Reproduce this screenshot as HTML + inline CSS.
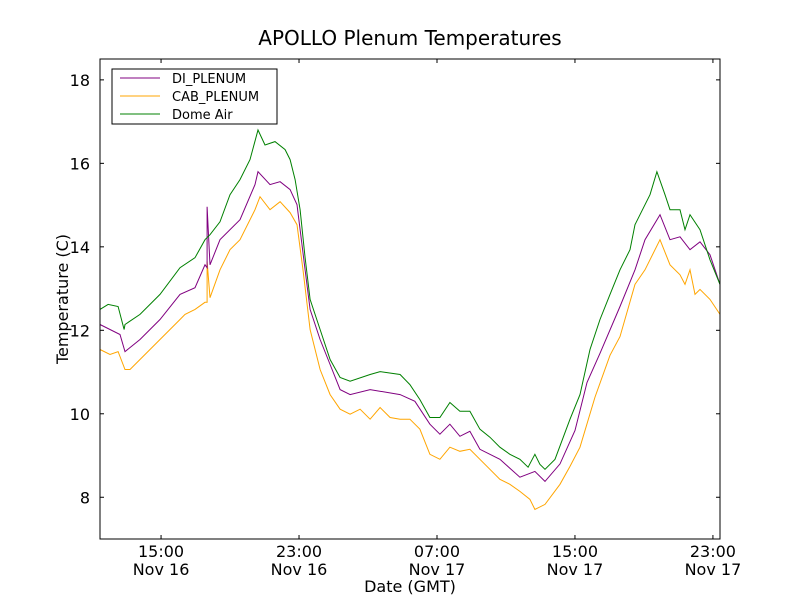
<!DOCTYPE html>
<html><head><meta charset="utf-8"><style>
body{margin:0;background:#fff}
svg{display:block;font-family:"DejaVu Sans","Liberation Sans",sans-serif}
</style></head><body>
<svg id="chart" width="800" height="600" viewBox="0 0 800 600">
<rect width="800" height="600" fill="#fff"/>
<text x="410" y="45" text-anchor="middle" font-size="20">APOLLO Plenum Temperatures</text>
<g id="plot"></g>
<g id="axes"></g>
<text x="410" y="592" text-anchor="middle" font-size="16">Date (GMT)</text>
<text x="68" y="299" text-anchor="middle" font-size="16" transform="rotate(-90 68 299)">Temperature (C)</text>
<g>
<rect x="112" y="69" width="165" height="55" fill="#fff" stroke="#000" stroke-width="1"/>
<line x1="120" y1="78" x2="160" y2="78" stroke="purple"/>
<text x="172" y="83" font-size="13">DI_PLENUM</text>
<line x1="120" y1="96" x2="160" y2="96" stroke="orange"/>
<text x="172" y="101" font-size="13">CAB_PLENUM</text>
<line x1="120" y1="114" x2="160" y2="114" stroke="green"/>
<text x="172" y="119" font-size="13">Dome Air</text>
</g>
</svg>
<script>
// hours relative to 15:00 Nov 16
const domeTimes=[-3.54,-3.07,-2.49,-2.14,-2.09,-1.22,-0.06,1.10,1.97,2.55,2.84,3.42,4.0,4.58,5.16,5.62,6.03,6.61,7.19,7.48,7.77,8.06,8.35,8.64,9.22,9.80,10.38,10.96,12.12,12.70,13.86,14.43,15.01,15.59,16.17,16.75,17.33,17.91,18.49,19.07,19.65,20.23,20.81,21.28,21.68,21.97,22.26,22.84,23.71,24.29,24.87,25.45,26.03,26.61,27.19,27.48,27.77,28.35,28.75,29.22,29.51,30.09,30.38,30.67,31.25,31.83,32.41];
const domeTemps=[12.50,12.62,12.57,12.02,12.14,12.38,12.86,13.50,13.74,14.17,14.29,14.60,15.25,15.61,16.09,16.80,16.44,16.52,16.33,16.09,15.61,14.89,13.74,12.74,12.02,11.30,10.87,10.78,10.94,11.01,10.94,10.70,10.34,9.91,9.91,10.27,10.06,10.06,9.63,9.44,9.20,9.03,8.91,8.72,9.03,8.79,8.67,8.91,9.87,10.46,11.54,12.26,12.86,13.45,13.93,14.53,14.77,15.25,15.80,15.25,14.89,14.89,14.41,14.77,14.41,13.69,13.10];
const diTimes=[-3.54,-2.38,-2.09,-1.22,-0.06,1.10,1.97,2.55,2.67,2.67,2.84,3.42,4.58,5.45,5.62,6.32,6.90,7.48,7.88,8.35,8.64,9.22,9.80,10.38,10.96,12.12,13.86,14.72,15.59,16.17,16.75,17.33,17.91,18.49,19.65,20.81,21.68,22.26,23.13,24.0,24.7,25.45,26.61,27.48,28.06,28.93,29.51,30.09,30.67,31.25,31.83,32.41];
const diTemps=[12.14,11.90,11.49,11.78,12.26,12.86,13.02,13.57,13.50,14.96,13.57,14.17,14.65,15.49,15.80,15.49,15.56,15.37,15.01,13.45,12.50,11.78,11.18,10.58,10.46,10.58,10.46,10.30,9.75,9.51,9.75,9.46,9.58,9.15,8.91,8.48,8.62,8.38,8.80,9.60,10.75,11.45,12.57,13.45,14.17,14.77,14.17,14.24,13.93,14.12,13.81,13.10];
const cabTimes=[-3.54,-2.96,-2.49,-2.09,-1.80,-0.64,0.52,1.10,1.39,1.97,2.55,2.67,2.67,2.84,3.42,4.0,4.58,5.45,5.74,6.32,6.90,7.48,7.88,8.23,8.64,9.22,9.80,10.38,10.96,11.54,12.12,12.70,13.28,13.86,14.43,15.01,15.59,16.17,16.75,17.33,17.91,18.49,19.07,19.65,20.23,20.81,21.39,21.68,22.26,23.13,23.71,24.29,25.16,26.03,26.61,27.48,28.06,28.93,29.51,30.09,30.38,30.67,30.96,31.25,31.83,32.41];
const cabTemps=[11.54,11.42,11.49,11.06,11.06,11.54,12.02,12.26,12.38,12.50,12.67,12.67,13.65,12.78,13.45,13.93,14.17,14.89,15.20,14.89,15.08,14.82,14.53,13.45,12.02,11.06,10.46,10.11,9.99,10.11,9.87,10.15,9.91,9.87,9.87,9.63,9.03,8.91,9.20,9.10,9.15,8.91,8.67,8.43,8.31,8.14,7.95,7.71,7.83,8.31,8.74,9.20,10.40,11.40,11.85,13.10,13.45,14.17,13.57,13.33,13.10,13.45,12.86,12.98,12.74,12.38];
const yTicks=[8,10,12,14,16,18];
const xTicks=[0,8,16,24,32];
const xTickLabels=[["15:00","Nov 16"],["23:00","Nov 16"],["07:00","Nov 17"],["15:00","Nov 17"],["23:00","Nov 17"]];

const L=100,R=720,T=59,B=539;
const xMin=-3.54,xMax=32.41,yMin=7,yMax=18.5;
const sx=h=>L+(h-xMin)/(xMax-xMin)*(R-L);
const sy=v=>B-(v-yMin)/(yMax-yMin)*(B-T);
const NS="http://www.w3.org/2000/svg";
const plot=document.getElementById('plot'),axes=document.getElementById('axes');
function mk(tag,attrs,parent){const e=document.createElementNS(NS,tag);for(const k in attrs)e.setAttribute(k,attrs[k]);parent.appendChild(e);return e;}
function series(ts,vs,color,name){
  const p=mk('polyline',{points:ts.map((t,i)=>sx(t).toFixed(1)+','+sy(vs[i]).toFixed(1)).join(' '),fill:'none',stroke:color,'stroke-width':1},plot);
  
  
}
series(cabTimes,cabTemps,'orange','cab-plenum-line');
series(diTimes,diTemps,'purple','di-plenum-line');
series(domeTimes,domeTemps,'green','dome-air-line');
const frame=mk('rect',{x:L,y:T,width:R-L,height:B-T,fill:'none',stroke:'#000','stroke-width':1},axes);


yTicks.forEach(v=>{
  const y=sy(v);
  mk('line',{x1:L,y1:y,x2:L+4,y2:y,stroke:'#000'},axes);
  mk('line',{x1:R,y1:y,x2:R-4,y2:y,stroke:'#000'},axes);
  const t=mk('text',{x:L-10,y:y+6,'text-anchor':'end','font-size':16},axes);
  t.textContent=v;
  
  
});
xTicks.forEach((h,i)=>{
  const x=sx(h);
  mk('line',{x1:x,y1:B,x2:x,y2:B-4,stroke:'#000'},axes);
  mk('line',{x1:x,y1:T,x2:x,y2:T+4,stroke:'#000'},axes);
  const t=mk('text',{x:x,y:B+18,'text-anchor':'middle','font-size':16},axes);
  t.textContent=xTickLabels[i][0];
  
  
  const t2=mk('text',{x:x,y:B+36,'text-anchor':'middle','font-size':16},axes);
  t2.textContent=xTickLabels[i][1];
  
  
});
</script>
</body></html>
